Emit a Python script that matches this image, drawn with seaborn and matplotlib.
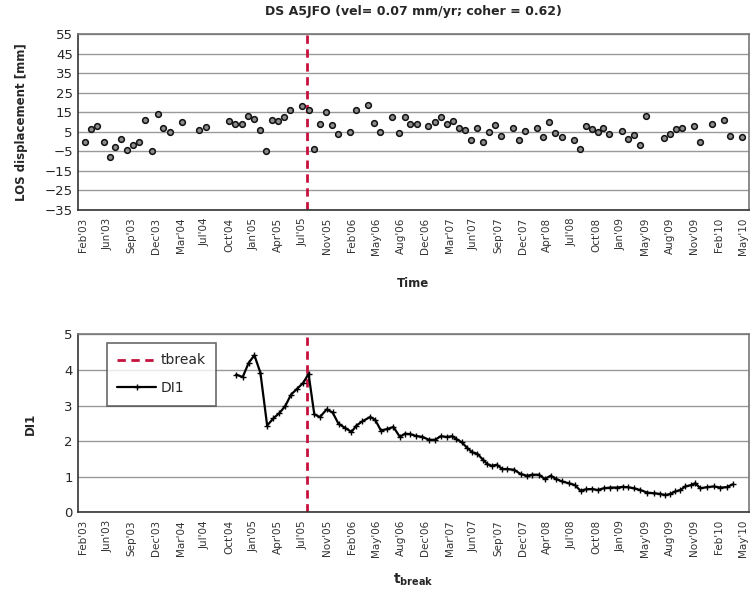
import pandas as pd
import numpy as np
import seaborn as sns
import matplotlib.pyplot as plt

# acquisition dates and LOS displacement [mm]
los_dates = ["2003-03-08", "2003-03-29", "2003-04-23", "2003-05-21", "2003-06-13", "2003-07-04",
             "2003-07-28", "2003-08-21", "2003-09-14", "2003-10-08", "2003-11-03", "2003-11-29",
             "2003-12-22", "2004-01-14", "2004-02-08", "2004-03-28", "2004-06-06", "2004-07-01",
             "2004-10-05", "2004-10-29", "2004-11-23", "2004-12-17", "2005-01-12", "2005-02-05",
             "2005-03-01", "2005-03-25", "2005-04-18", "2005-05-12", "2005-06-06", "2005-07-24",
             "2005-08-20", "2005-09-10", "2005-10-04", "2005-10-28", "2005-11-20", "2005-12-15",
             "2006-01-31", "2006-02-25", "2006-04-14", "2006-05-08", "2006-06-01", "2006-07-20",
             "2006-08-16", "2006-09-08", "2006-09-29", "2006-10-26", "2006-12-11", "2007-01-06",
             "2007-01-30", "2007-02-24", "2007-03-19", "2007-04-13", "2007-05-08", "2007-06-01",
             "2007-06-24", "2007-07-19", "2007-08-11", "2007-09-04", "2007-09-29", "2007-11-15",
             "2007-12-10", "2008-01-03", "2008-02-20", "2008-03-15", "2008-04-08", "2008-05-02",
             "2008-05-28", "2008-07-15", "2008-08-08", "2008-09-01", "2008-09-25", "2008-10-19",
             "2008-11-12", "2008-12-06", "2009-01-24", "2009-02-17", "2009-03-13", "2009-04-07",
             "2009-05-01", "2009-07-12", "2009-08-05", "2009-08-29", "2009-09-22", "2009-11-09",
             "2009-12-03", "2010-01-20", "2010-03-09", "2010-04-02", "2010-05-22"]
los_mm = [0, 6.3, 8, 0, -8, -3, 1.5, -4.3, -2, 0, 11, -5,
          14, 7, 5, 10, 6, 7.5, 10.7, 9, 9, 13, 11.6, 6,
          -4.6, 11.2, 10.7, 12.6, 16, 18.2, 16, -3.6, 8.8, 15, 8.7, 4,
          5, 16, 18.7, 9.4, 4.7, 12.7, 4.6, 12.7, 9.2, 9.2, 8.1, 10,
          12.7, 9, 10.7, 7, 5.8, 0.8, 7, -0.2, 5, 8.3, 3, 7,
          1, 5.4, 7, 2.4, 10, 4.4, 2.2, 0.8, -3.6, 8, 6.3, 5,
          7, 4, 5.3, 1.5, 3.2, -2, 13, 2, 4, 6.6, 6.8, 8,
          -0.2, 9.2, 11.2, 3, 2.2]

# DI1 index versus candidate break date
di1_dates = ["2004-11-01", "2004-11-27", "2004-12-21", "2005-01-13", "2005-02-06", "2005-03-05",
             "2005-03-30", "2005-04-23", "2005-05-16", "2005-06-09", "2005-07-03", "2005-07-28",
             "2005-08-18", "2005-09-10", "2005-10-03", "2005-10-29", "2005-11-22", "2005-12-16",
             "2006-01-12", "2006-02-06", "2006-02-26", "2006-03-22", "2006-04-22", "2006-05-12",
             "2006-06-04", "2006-06-28", "2006-07-24", "2006-08-19", "2006-09-08", "2006-09-29",
             "2006-10-22", "2006-11-17", "2006-12-14", "2007-01-07", "2007-01-30", "2007-02-23",
             "2007-03-17", "2007-04-02", "2007-04-24", "2007-05-16", "2007-06-05", "2007-06-25",
             "2007-07-18", "2007-08-04", "2007-08-22", "2007-09-11", "2007-10-03", "2007-10-23",
             "2007-11-19", "2007-12-16", "2008-01-11", "2008-01-31", "2008-02-27", "2008-03-22",
             "2008-04-14", "2008-05-06", "2008-05-30", "2008-06-26", "2008-07-20", "2008-08-12",
             "2008-09-03", "2008-09-27", "2008-10-20", "2008-11-13", "2008-12-10", "2009-01-05",
             "2009-01-28", "2009-02-18", "2009-03-13", "2009-04-09", "2009-05-05", "2009-06-01",
             "2009-06-28", "2009-07-18", "2009-08-07", "2009-08-27", "2009-09-16", "2009-10-06",
             "2009-10-30", "2009-11-15", "2009-12-05", "2009-12-31", "2010-01-27", "2010-02-23",
             "2010-03-21", "2010-04-14"]
di1 = [3.87, 3.80, 4.20, 4.41, 3.92, 2.44, 2.64, 2.79, 2.98, 3.31, 3.47, 3.64,
       3.89, 2.75, 2.68, 2.89, 2.81, 2.49, 2.37, 2.26, 2.44, 2.56, 2.68, 2.60,
       2.30, 2.34, 2.40, 2.12, 2.21, 2.20, 2.15, 2.12, 2.04, 2.04, 2.14, 2.12,
       2.14, 2.06, 1.97, 1.81, 1.69, 1.65, 1.48, 1.36, 1.31, 1.34, 1.22, 1.22,
       1.20, 1.08, 1.03, 1.06, 1.06, 0.94, 1.03, 0.94, 0.87, 0.82, 0.77, 0.61,
       0.65, 0.66, 0.63, 0.68, 0.70, 0.70, 0.72, 0.71, 0.68, 0.63, 0.56, 0.54,
       0.52, 0.49, 0.52, 0.59, 0.63, 0.73, 0.77, 0.82, 0.68, 0.71, 0.73, 0.70,
       0.71, 0.79]

tbreak = "2005-08-13"
tick_labels = ["Feb'03", "Jun'03", "Sep'03", "Dec'03", "Mar'04", "Jul'04", "Oct'04",
               "Jan'05", "Apr'05", "Jul'05", "Nov'05", "Feb'06", "May'06", "Aug'06",
               "Dec'06", "Mar'07", "Jun'07", "Sep'07", "Dec'07", "Apr'08", "Jul'08",
               "Oct'08", "Jan'09", "May'09", "Aug'09", "Nov'09", "Feb'10", "May'10"]

df_los = pd.DataFrame({"date": pd.to_datetime(los_dates), "los": los_mm})
df_di = pd.DataFrame({"date": pd.to_datetime(di1_dates), "di1": di1})
ticks = pd.date_range("2003-02-25", periods=len(tick_labels), freq="98D")
xlim = (pd.Timestamp("2003-02-05"), pd.Timestamp("2010-06-18"))

sns.set_style("white")
plt.rcParams["font.family"] = ["DejaVu Sans"]

fig = plt.figure(figsize=(7.55, 5.98), dpi=100)
ax1 = fig.add_axes([0.103, 0.649, 0.889, 0.294])
ax2 = fig.add_axes([0.103, 0.143, 0.889, 0.298])

red = "#c8103c"
grid_c = "#9a9a9a"

# top panel
sns.scatterplot(data=df_los, x="date", y="los", ax=ax1, marker="o", s=17,
                color="#8c8c8c", edgecolor="#111111", linewidth=1.1, zorder=3)
ax1.axvline(pd.Timestamp(tbreak), color=red, ls=(0, (3, 2)), lw=2, zorder=2)
ax1.set_ylim(-35, 55)
ax1.set_yticks(np.arange(-35, 56, 10))
ax1.set_title("DS A5JFO (vel= 0.07 mm/yr; coher = 0.62)", fontsize=9, fontweight="bold", pad=14)
ax1.set_ylabel("LOS displacement [mm]", fontsize=8.5, fontweight="bold", labelpad=12)
ax1.set_xlabel("Time", fontsize=8.5, fontweight="bold", labelpad=16)

# bottom panel
ax2.axvline(pd.Timestamp(tbreak), color=red, ls=(0, (3, 2)), lw=2, zorder=2, label="tbreak")
sns.lineplot(data=df_di, x="date", y="di1", ax=ax2, color="black", lw=1.6,
             marker="+", markersize=4, markeredgewidth=1, markeredgecolor="black",
             label="DI1", zorder=3)
ax2.set_ylim(0, 5)
ax2.set_yticks(range(0, 6))
ax2.set_ylabel("DI1", fontsize=8.5, fontweight="bold", labelpad=20)
ax2.set_xlabel("$\\mathbf{t_{break}}$", fontsize=10, labelpad=10)
leg = ax2.legend(loc="upper left", bbox_to_anchor=(0.033, 0.99), fontsize=10,
                 frameon=True, fancybox=False, edgecolor="#444444", handlelength=2.8,
                 borderpad=0.75, labelspacing=1.0, handletextpad=0.3)
leg.get_frame().set_linewidth(1.2)

for ax in (ax1, ax2):
    ax.set_xlim(*xlim)
    ax.set_xticks(ticks)
    ax.set_xticklabels(tick_labels, rotation=90, fontsize=7.5, color="#333333")
    ax.tick_params(axis="y", labelsize=9.5, length=4, direction="in", width=1)
    ax.tick_params(axis="x", length=4, direction="inout", width=1)
    ax.yaxis.grid(True, color=grid_c, lw=1)
    ax.xaxis.grid(False)
    ax.set_axisbelow(True)
    ax.spines["left"].set_color("#333333")
    ax.spines["bottom"].set_color("#333333")
    ax.spines["top"].set_color("#777777")
    ax.spines["right"].set_color("#777777")
    for s in ax.spines.values():
        s.set_linewidth(1.2)

fig.savefig("out.png", dpi=100)
